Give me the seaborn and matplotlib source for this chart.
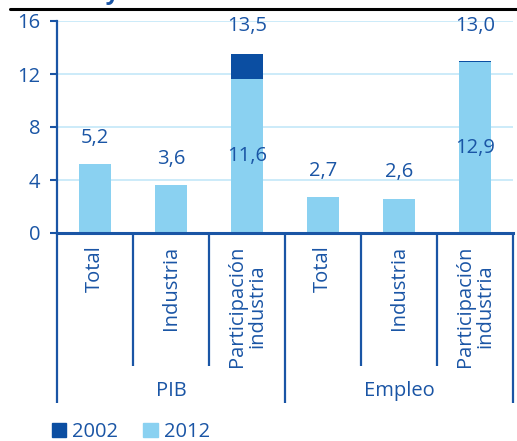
import numpy as np
import pandas as pd
import matplotlib
matplotlib.use('Agg')
import matplotlib.pyplot as plt
import matplotlib.transforms as mtransforms
from matplotlib.patches import Patch
from matplotlib.lines import Line2D
import seaborn as sns

# Datos
grupos = ['PIB', 'Empleo']
categorias = ['Total', 'Industria', 'Participación\nindustria',
              'Total', 'Industria', 'Participación\nindustria']
claves = ['pib_total', 'pib_ind', 'pib_part', 'emp_total', 'emp_ind', 'emp_part']
valores_2002 = [np.nan, np.nan, 13.5, np.nan, np.nan, 13.0]
valores_2012 = [5.2, 3.6, 11.6, 2.7, 2.6, 12.9]
yticks = [0, 4, 8, 12, 16]

azul_oscuro = '#0B4EA2'
azul_claro = '#8AD1F1'
azul_texto = '#1A55A5'
azul_rejilla = '#C4E8F8'
fs = 14.5

df = pd.DataFrame({'clave': claves, 'v2002': valores_2002, 'v2012': valores_2012})

sns.set_style('white')
plt.rcParams['font.family'] = ['Open Sans', 'DejaVu Sans']

fig = plt.figure(figsize=(5.17, 4.41), dpi=100)
ax = fig.add_axes([57 / 517, 1 - 233 / 441, 456 / 517, 212 / 441])

# Barras (2002 detras, 2012 delante)
sns.barplot(data=df, x='clave', y='v2002', order=claves, color=azul_oscuro,
            width=0.41, errorbar=None, saturation=1, linewidth=0, ax=ax)
sns.barplot(data=df, x='clave', y='v2012', order=claves, color=azul_claro,
            width=0.41, errorbar=None, saturation=1, linewidth=0, ax=ax)

ax.set_xlim(-0.5, 5.5)
ax.set_ylim(0, 16)
ax.set_yticks(yticks)
ax.set_yticklabels([str(t) for t in yticks])
ax.set_xlabel('')
ax.set_ylabel('')
ax.set_xticks(range(len(categorias)))
ax.set_xticklabels(categorias, rotation=90, linespacing=1.0)

ax.yaxis.grid(True, color=azul_rejilla, linewidth=1.2)
ax.set_axisbelow(True)
ax.tick_params(axis='x', length=0, pad=9, labelsize=fs, labelcolor=azul_texto)
ax.tick_params(axis='y', length=5, width=1.5, color=azul_texto, direction='out',
               pad=7, labelsize=fs, labelcolor=azul_texto, left=True)

for s in ['top', 'right']:
    ax.spines[s].set_visible(False)
ax.spines['left'].set_color(azul_texto)
ax.spines['left'].set_linewidth(1.6)
ax.spines['bottom'].set_color(azul_texto)
ax.spines['bottom'].set_linewidth(2.2)

# Etiquetas de datos
for i in range(len(claves)):
    v12 = valores_2012[i]
    v02 = valores_2002[i]
    if np.isnan(v02):
        ax.text(i, v12 + 2.0, f'{v12:.1f}'.replace('.', ','), ha='center', va='center',
                fontsize=fs, color=azul_texto)
    else:
        ax.text(i, v12 / 2, f'{v12:.1f}'.replace('.', ','), ha='center', va='center',
                fontsize=fs, color=azul_texto)
        ax.text(i, 15.6, f'{v02:.1f}'.replace('.', ','), ha='center', va='center',
                fontsize=fs, color=azul_texto)

# Separadores de categorias y grupos
trans = mtransforms.blended_transform_factory(ax.transData, ax.transAxes)
for b in np.arange(-0.5, 6.0, 1.0):
    largo = -0.80 if b in (-0.5, 2.5, 5.5) else -0.627
    ax.plot([b, b], [0, largo], transform=trans, color=azul_texto, linewidth=1.6,
            clip_on=False, solid_capstyle='butt')
for j, g in enumerate(grupos):
    ax.text(j * 3 + 1, -0.745, g, transform=trans, ha='center', va='center',
            fontsize=fs, color=azul_texto)

# Leyenda
handles = [Patch(color=azul_oscuro, label='2002'), Patch(color=azul_claro, label='2012')]
fig.legend(handles=handles, loc='lower left', bbox_to_anchor=(34 / 517, -19 / 441),
           ncol=2, frameon=False, fontsize=fs, labelcolor=azul_texto,
           handlelength=0.7, handleheight=0.7, handletextpad=0.3, columnspacing=1.25)

# Titulo recortado y linea superior
fig.text(10 / 517, 1 + 1.5 / 441, 'en 2002 y 2012', ha='left', va='baseline',
         fontsize=17, fontweight='bold', color=azul_texto)
fig.add_artist(Line2D([10 / 517, 1], [1 - 9 / 441, 1 - 9 / 441], color='black',
                      linewidth=2.2, transform=fig.transFigure))

fig.savefig('out.png', dpi=100)
